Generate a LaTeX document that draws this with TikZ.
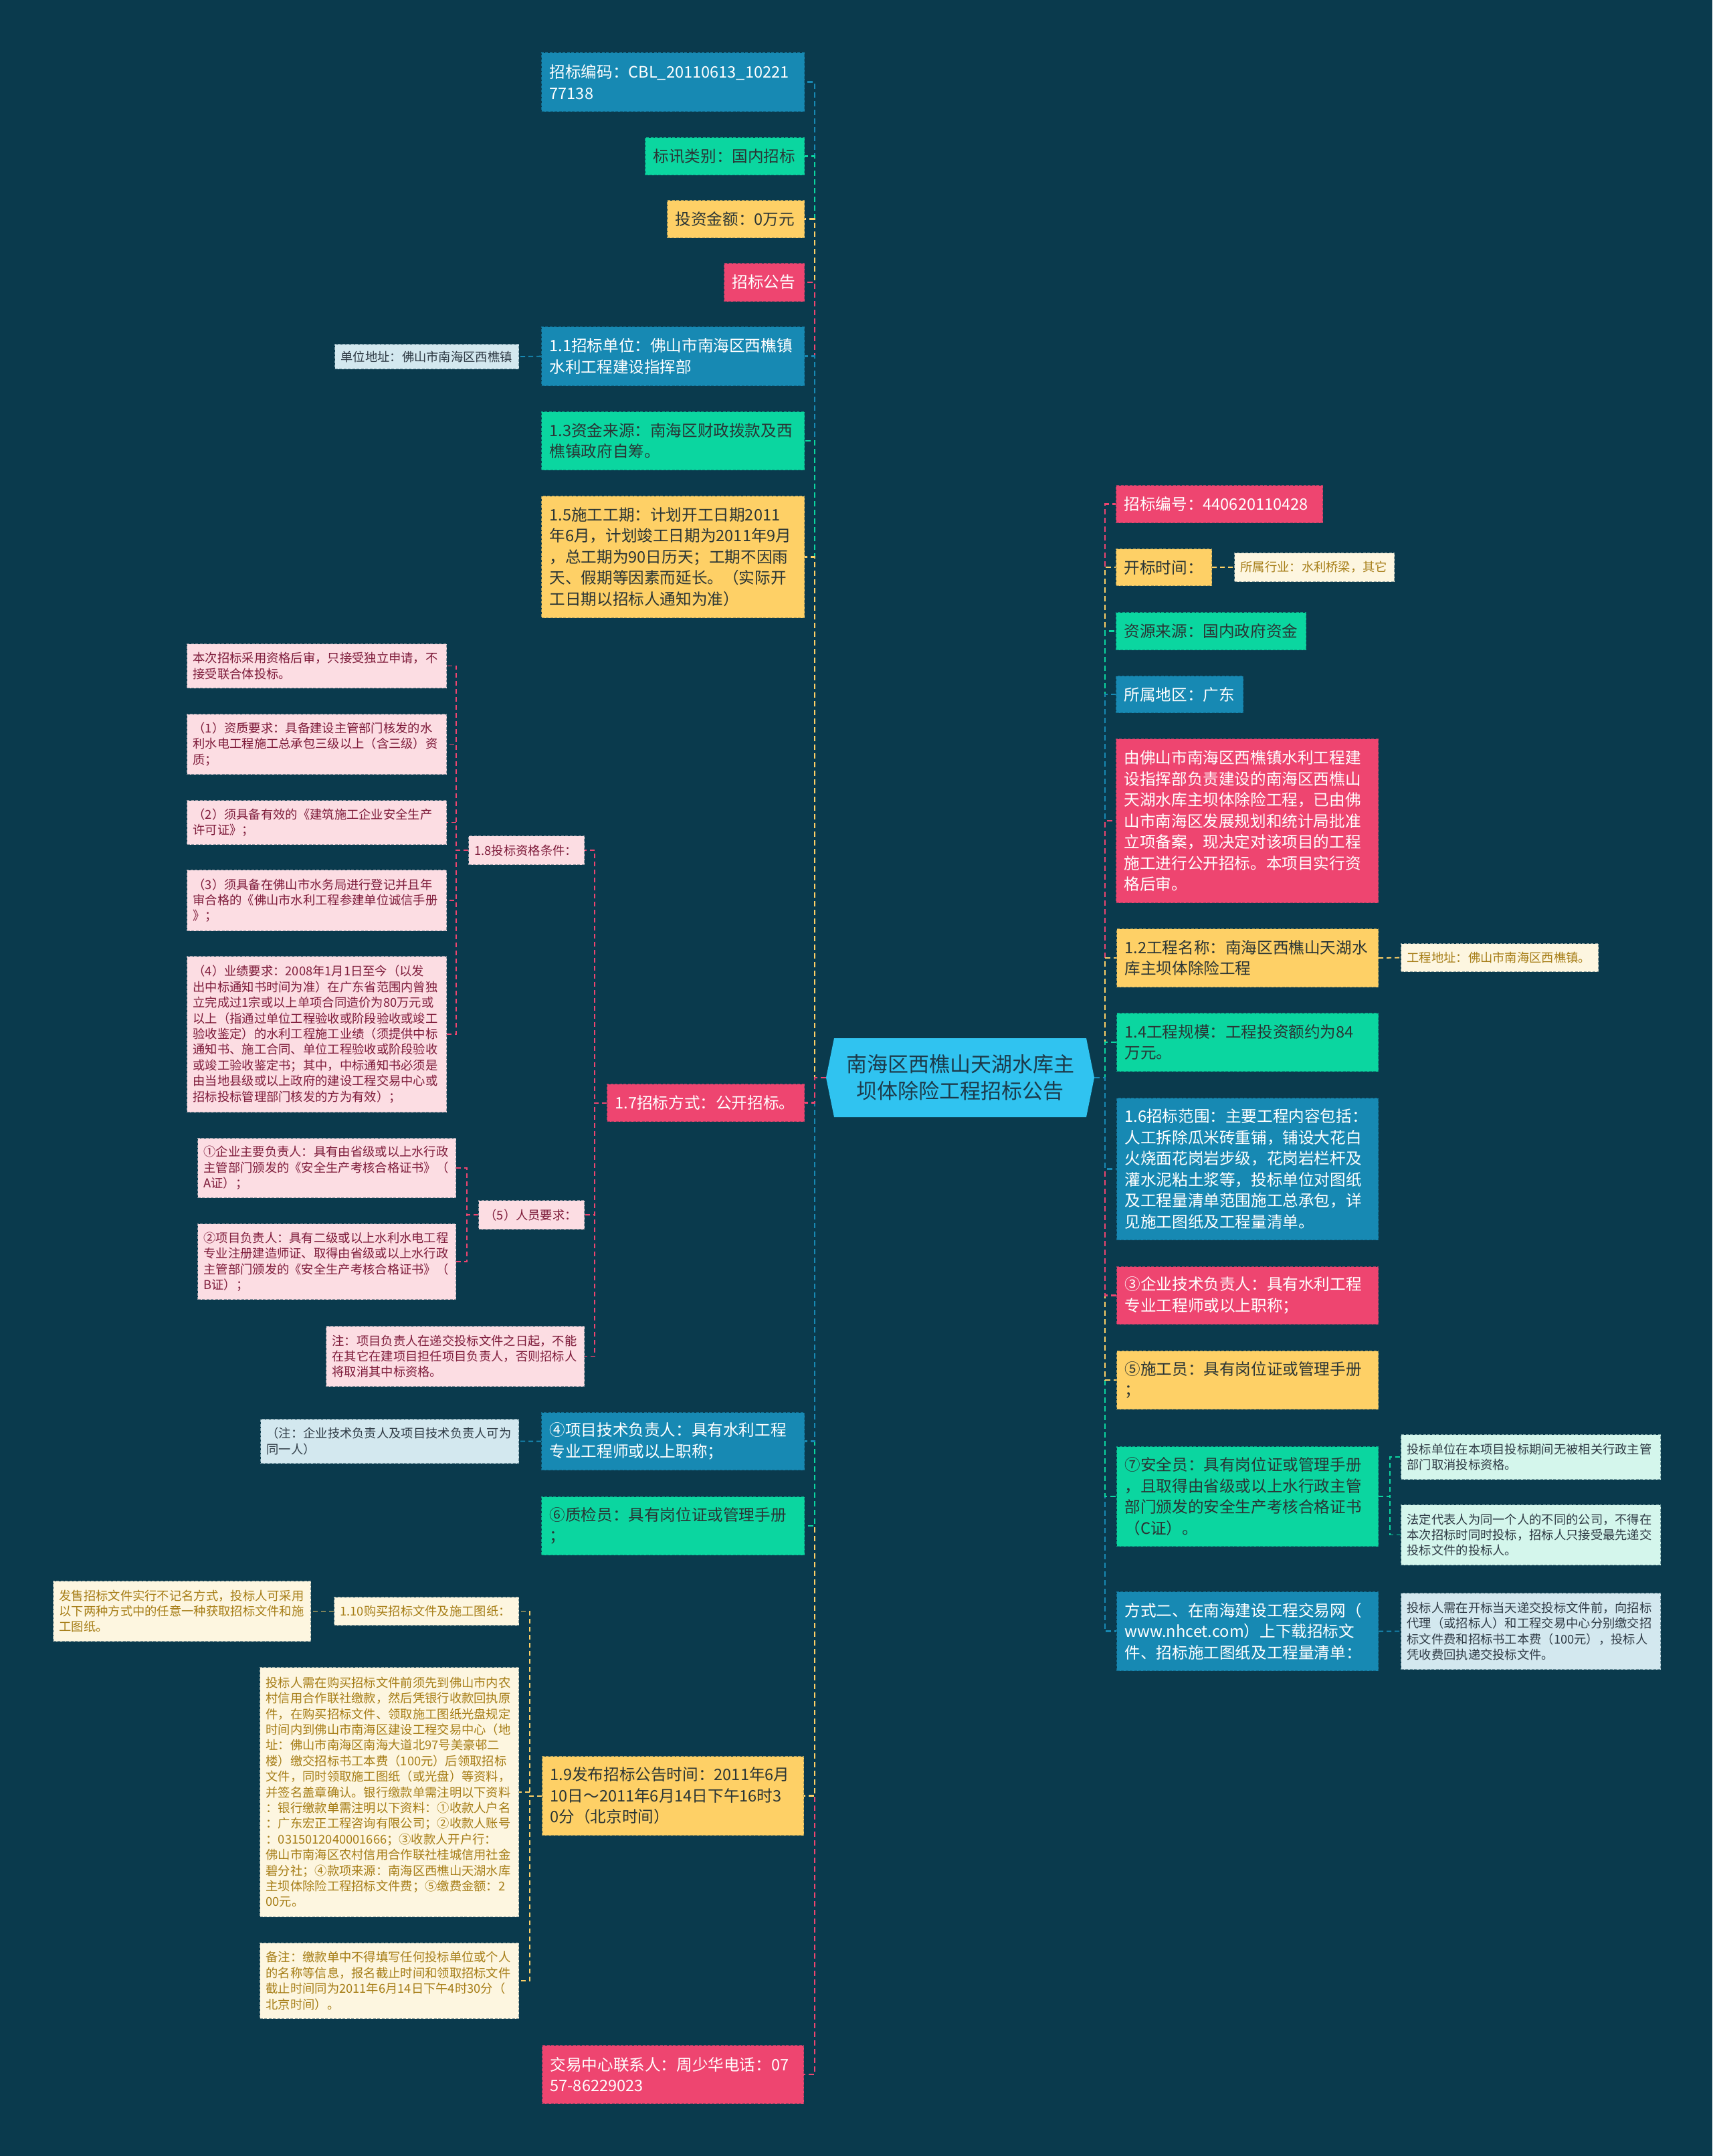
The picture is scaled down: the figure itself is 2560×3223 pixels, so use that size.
\documentclass[tikz,border=0pt]{standalone}
\usepackage{fontspec}
\setmainfont{Noto Sans CJK SC}
\definecolor{bgc}{HTML}{0A3A4D}
\definecolor{cblue}{HTML}{1789B3}
\definecolor{cgreen}{HTML}{0BD6A0}
\definecolor{cyellow}{HTML}{FED066}
\definecolor{cpink}{HTML}{EE4570}
\definecolor{ccen}{HTML}{30C3F0}
\definecolor{ctext}{HTML}{1C3A4A}
\definecolor{dtext}{HTML}{2A3535}
\definecolor{lpink}{HTML}{FCDDE3}
\definecolor{lpinkt}{HTML}{7E1B3A}
\definecolor{cream}{HTML}{FDF6E0}
\definecolor{creamt}{HTML}{A67D16}
\definecolor{lblue}{HTML}{D3E8EF}
\definecolor{lmint}{HTML}{D4F6EC}
\definecolor{lbluet}{HTML}{2F3B45}
\tikzset{
  whm/.code 2 args={\pgfmathsetmacro\tmpw{#1-24}\edef\tmpx{\noexpand\tikzset{minimum width=#1pt,minimum height=#2pt,text width=\tmpw pt}}\tmpx},
  whs/.code 2 args={\pgfmathsetmacro\tmpw{#1-18}\edef\tmpx{\noexpand\tikzset{minimum width=#1pt,minimum height=#2pt,text width=\tmpw pt}}\tmpx},
  mbox/.style={draw=#1!65!bgc, fill=#1, line width=1.2pt, dash pattern=on 4pt off 2.5pt, inner xsep=12pt, inner ysep=2pt, align=left, anchor=north west, font=\fontsize{23.6pt}{31.5pt}\selectfont},
  sbox/.style={draw=#1!55!bgc, fill=#1, line width=1.1pt, dash pattern=on 4pt off 2.5pt, inner xsep=9pt, inner ysep=2pt, align=left, anchor=north west, font=\fontsize{18.3pt}{23.4pt}\selectfont},
  bxB/.style={mbox=cblue, text=white},
  bxG/.style={mbox=cgreen, text=dtext},
  bxY/.style={mbox=cyellow, text=dtext},
  bxP/.style={mbox=cpink, text=white},
  bxLP/.style={sbox=lpink, text=lpinkt},
  bxCR/.style={sbox=cream, text=creamt},
  bxLB/.style={sbox=lblue, text=lbluet},
  bxLM/.style={sbox=lmint, text=lbluet},
  conn/.style={draw=#1, line width=2.4pt, dash pattern=on 8pt off 5pt},
  sconn/.style={draw=#1, line width=1.8pt, dash pattern=on 7pt off 5pt},
}
\begin{document}
\begin{tikzpicture}[x=1pt,y=-1pt]
\fill[bgc] (0,0) rectangle (2560,3223);
\useasboundingbox (0,0) rectangle (2560,3223);

% center
\fill[ccen] (1235,1611) -- (1247,1552) -- (1624,1552) -- (1636,1611) -- (1624,1670) -- (1247,1670) -- cycle;
\node[font=\fontsize{31pt}{40pt}\selectfont, text=ctext, align=center] (ctr) at (1435.5,1611) {南海区西樵山天湖水库主\\坝体除险工程招标公告};
\coordinate (cL) at (1235,1611);
\coordinate (cR) at (1636,1611);

% left main
\node[bxB, whm={393}{88}] (n1) at (809,78) {招标编码：CBL\_20110613\_10221\\77138};
\node[bxG, whm={238}{56}] (n2) at (964,205) {标讯类别：国内招标};
\node[bxY, whm={205}{56}] (n3) at (997,299) {投资金额：0万元};
\node[bxP, whm={120}{57}] (n4) at (1082,393) {招标公告};
\node[bxB, whm={393}{88}] (n5) at (809,488) {1.1招标单位：佛山市南海区西樵镇\\水利工程建设指挥部};
\node[bxG, whm={393}{87}] (n6) at (809,615) {1.3资金来源：南海区财政拨款及西\\樵镇政府自筹。};
\node[bxY, whm={393}{182}] (n7) at (809,741) {1.5施工工期：计划开工日期2011\\年6月，计划竣工日期为2011年9月\\，总工期为90日历天；工期不因雨\\天、假期等因素而延长。（实际开\\工日期以招标人通知为准）};
\node[bxP, whm={295}{56}] (n8) at (907,1620) {1.7招标方式：公开招标。};
\node[bxB, whm={393}{86}] (n9) at (809,2111) {④项目技术负责人：具有水利工程\\专业工程师或以上职称；};
\node[bxG, whm={393}{87}] (n10) at (809,2237) {⑥质检员：具有岗位证或管理手册\\；};
\node[bxY, whm={391}{118}] (n11) at (810,2625) {1.9发布招标公告时间：2011年6月\\10日～2011年6月14日下午16时3\\0分（北京时间）};
\node[bxP, whm={391}{87}] (n12) at (810,3057) {交易中心联系人：周少华电话：07\\57-86229023};

% right main
\node[bxP, whm={309}{56}] (r1) at (1668,725) {招标编号：440620110428};
\node[bxY, whm={143}{55}] (r2) at (1668,820) {开标时间：};
\node[bxG, whm={284}{56}] (r3) at (1668,915) {资源来源：国内政府资金};
\node[bxB, whm={190}{55}] (r4) at (1668,1010) {所属地区：广东};
\node[bxP, whm={392}{245}] (r5) at (1668,1104) {由佛山市南海区西樵镇水利工程建\\设指挥部负责建设的南海区西樵山\\天湖水库主坝体除险工程，已由佛\\山市南海区发展规划和统计局批准\\立项备案，现决定对该项目的工程\\施工进行公开招标。本项目实行资\\格后审。};
\node[bxY, whm={391}{87}] (r6) at (1669,1388) {1.2工程名称：南海区西樵山天湖水\\库主坝体除险工程};
\node[bxG, whm={391}{87}] (r7) at (1669,1514) {1.4工程规模：工程投资额约为84\\万元。};
\node[bxB, whm={391}{212}] (r8) at (1669,1641) {1.6招标范围：主要工程内容包括：\\人工拆除瓜米砖重铺，铺设大花白\\火烧面花岗岩步级，花岗岩栏杆及\\灌水泥粘土浆等，投标单位对图纸\\及工程量清单范围施工总承包，详\\见施工图纸及工程量清单。};
\node[bxP, whm={391}{86}] (r9) at (1669,1893) {③企业技术负责人：具有水利工程\\专业工程师或以上职称；};
\node[bxY, whm={391}{87}] (r10) at (1669,2019) {⑤施工员：具有岗位证或管理手册\\；};
\node[bxG, whm={391}{149}] (r11) at (1669,2162) {⑦安全员：具有岗位证或管理手册\\，且取得由省级或以上水行政主管\\部门颁发的安全生产考核合格证书\\（C证）。};
\node[bxB, whm={391}{118}] (r12) at (1669,2379) {方式二、在南海建设工程交易网（\\www.nhcet.com）上下载招标文\\件、招标施工图纸及工程量清单：};

% right sub
\node[bxCR, whs={239}{43}] (hy) at (1845,826) {所属行业：水利桥梁，其它};
\node[bxCR, whs={295}{42}] (gd) at (2094,1410) {工程地址：佛山市南海区西樵镇。};
\node[bxLM, whs={388}{67}] (s1) at (2094,2144) {投标单位在本项目投标期间无被相关行政主管\\部门取消投标资格。};
\node[bxLM, whs={388}{90}] (s2) at (2094,2249) {法定代表人为同一个人的不同的公司，不得在\\本次招标时同时投标，招标人只接受最先递交\\投标文件的投标人。};
\node[bxLB, whs={388}{114}] (s3) at (2094,2381) {投标人需在开标当天递交投标文件前，向招标\\代理（或招标人）和工程交易中心分别缴交招\\标文件费和招标书工本费（100元），投标人\\凭收费回执递交投标文件。};

% left sub
\node[bxLB, whs={275}{37}] (dz) at (500,514) {单位地址：佛山市南海区西樵镇};
\node[bxLP, whs={173}{43}] (q18) at (700,1249) {1.8投标资格条件：};
\node[bxLP, whs={388}{66}] (a1) at (279,962) {本次招标采用资格后审，只接受独立申请，不\\接受联合体投标。};
\node[bxLP, whs={388}{90}] (a2) at (279,1067) {（1）资质要求：具备建设主管部门核发的水\\利水电工程施工总承包三级以上（含三级）资\\质；};
\node[bxLP, whs={388}{66}] (a3) at (279,1196) {（2）须具备有效的《建筑施工企业安全生产\\许可证》；};
\node[bxLP, whs={388}{91}] (a4) at (279,1300) {（3）须具备在佛山市水务局进行登记并且年\\审合格的《佛山市水利工程参建单位诚信手册\\》；};
\node[bxLP, whs={388}{233}] (a5) at (279,1429) {（4）业绩要求：2008年1月1日至今（以发\\出中标通知书时间为准）在广东省范围内曾独\\立完成过1宗或以上单项合同造价为80万元或\\以上（指通过单位工程验收或阶段验收或竣工\\验收鉴定）的水利工程施工业绩（须提供中标\\通知书、施工合同、单位工程验收或阶段验收\\或竣工验收鉴定书；其中，中标通知书必须是\\由当地县级或以上政府的建设工程交易中心或\\招标投标管理部门核发的方为有效）；};
\node[bxLP, whs={158}{43}] (q5) at (715,1794) {（5）人员要求：};
\node[bxLP, whs={386}{89}] (b1) at (295,1701) {①企业主要负责人：具有由省级或以上水行政\\主管部门颁发的《安全生产考核合格证书》（\\A证）；};
\node[bxLP, whs={386}{113}] (b2) at (295,1829) {②项目负责人：具有二级或以上水利水电工程\\专业注册建造师证、取得由省级或以上水行政\\主管部门颁发的《安全生产考核合格证书》（\\B证）；};
\node[bxLP, whs={386}{90}] (zq) at (487,1982) {注：项目负责人在递交投标文件之日起，不能\\在其它在建项目担任项目负责人，否则招标人\\将取消其中标资格。};
\node[bxLB, whs={386}{66}] (zj) at (389,2121) {（注：企业技术负责人及项目技术负责人可为\\同一人）};
\node[bxCR, whs={276}{42}] (p10) at (499,2387) {1.10购买招标文件及施工图纸：};
\node[bxCR, whs={385}{90}] (fs) at (79,2363) {发售招标文件实行不记名方式，投标人可采用\\以下两种方式中的任意一种获取招标文件和施\\工图纸。};
\node[bxCR, whs={387}{373}] (tb) at (388,2492) {投标人需在购买招标文件前须先到佛山市内农\\村信用合作联社缴款，然后凭银行收款回执原\\件，在购买招标文件、领取施工图纸光盘规定\\时间内到佛山市南海区建设工程交易中心（地\\址：佛山市南海区南海大道北97号美豪邨二\\楼）缴交招标书工本费（100元）后领取招标\\文件，同时领取施工图纸（或光盘）等资料，\\并签名盖章确认。银行缴款单需注明以下资料\\：银行缴款单需注明以下资料：①收款人户名\\：广东宏正工程咨询有限公司；②收款人账号\\：0315012040001666；③收款人开户行：\\佛山市南海区农村信用合作联社桂城信用社金\\碧分社；④款项来源：南海区西樵山天湖水库\\主坝体除险工程招标文件费；⑤缴费金额：2\\00元。};
\node[bxCR, whs={387}{113}] (bz) at (388,2904) {备注：缴款单中不得填写任何投标单位或个人\\的名称等信息，报名截止时间和领取招标文件\\截止时间同为2011年6月14日下午4时30分（\\北京时间）。};

% main connectors left (farthest first)
\draw[conn=cblue] (cL) -- ++(-17,0) |- (n1.east);
\draw[conn=cpink] (cL) -- ++(-17,0) |- (n12.east);
\draw[conn=cgreen] (cL) -- ++(-17,0) |- (n2.east);
\draw[conn=cyellow] (cL) -- ++(-17,0) |- (n11.east);
\draw[conn=cyellow] (cL) -- ++(-17,0) |- (n3.east);
\draw[conn=cgreen] (cL) -- ++(-17,0) |- (n10.east);
\draw[conn=cpink] (cL) -- ++(-17,0) |- (n4.east);
\draw[conn=cblue] (cL) -- ++(-17,0) |- (n9.east);
\draw[conn=cblue] (cL) -- ++(-17,0) |- (n5.east);
\draw[conn=cgreen] (cL) -- ++(-17,0) |- (n6.east);
\draw[conn=cyellow] (cL) -- ++(-17,0) |- (n7.east);
\draw[conn=cpink] (cL) -- ++(-17,0) |- (n8.east);

% main connectors right
\draw[conn=cpink] (cR) -- ++(16,0) |- (r1.west);
\draw[conn=cblue] (cR) -- ++(16,0) |- (r12.west);
\draw[conn=cyellow] (cR) -- ++(16,0) |- (r2.west);
\draw[conn=cgreen] (cR) -- ++(16,0) |- (r11.west);
\draw[conn=cgreen] (cR) -- ++(16,0) |- (r3.west);
\draw[conn=cyellow] (cR) -- ++(16,0) |- (r10.west);
\draw[conn=cblue] (cR) -- ++(16,0) |- (r4.west);
\draw[conn=cpink] (cR) -- ++(16,0) |- (r9.west);
\draw[conn=cpink] (cR) -- ++(16,0) |- (r5.west);
\draw[conn=cyellow] (cR) -- ++(16,0) |- (r6.west);
\draw[conn=cgreen] (cR) -- ++(16,0) |- (r7.west);
\draw[conn=cblue] (cR) -- ++(16,0) |- (r8.west);

% sub connectors
\draw[sconn=cblue] (n5.west) -- (dz.east);
\draw[sconn=cpink] (n8.west) -- ++(-18,0) |- (q18.east);
\draw[sconn=cpink] (n8.west) -- ++(-18,0) |- (q5.east);
\draw[sconn=cpink] (n8.west) -- ++(-18,0) |- (zq.east);
\draw[sconn=cpink] (q18.west) -- ++(-18,0) |- (a1.east);
\draw[sconn=cpink] (q18.west) -- ++(-18,0) |- (a2.east);
\draw[sconn=cpink] (q18.west) -- ++(-18,0) |- (a3.east);
\draw[sconn=cpink] (q18.west) -- ++(-18,0) |- (a4.east);
\draw[sconn=cpink] (q18.west) -- ++(-18,0) |- (a5.east);
\draw[sconn=cpink] (q5.west) -- ++(-17,0) |- (b1.east);
\draw[sconn=cpink] (q5.west) -- ++(-17,0) |- (b2.east);
\draw[sconn=cblue] (n9.west) -- (zj.east);
\draw[sconn=cyellow] (n11.west) -- ++(-18,0) |- (p10.east);
\draw[sconn=cyellow] (n11.west) -- ++(-18,0) |- (tb.east);
\draw[sconn=cyellow] (n11.west) -- ++(-18,0) |- (bz.east);
\draw[sconn=cyellow] (p10.west) -- (fs.east);
\draw[sconn=cyellow] (r2.east) -- (hy.west);
\draw[sconn=cyellow] (r6.east) -- (gd.west);
\draw[sconn=cgreen] (r11.east) -- ++(17,0) |- (s1.west);
\draw[sconn=cgreen] (r11.east) -- ++(17,0) |- (s2.west);
\draw[sconn=cblue] (r12.east) -- (s3.west);
\end{tikzpicture}
\end{document}
